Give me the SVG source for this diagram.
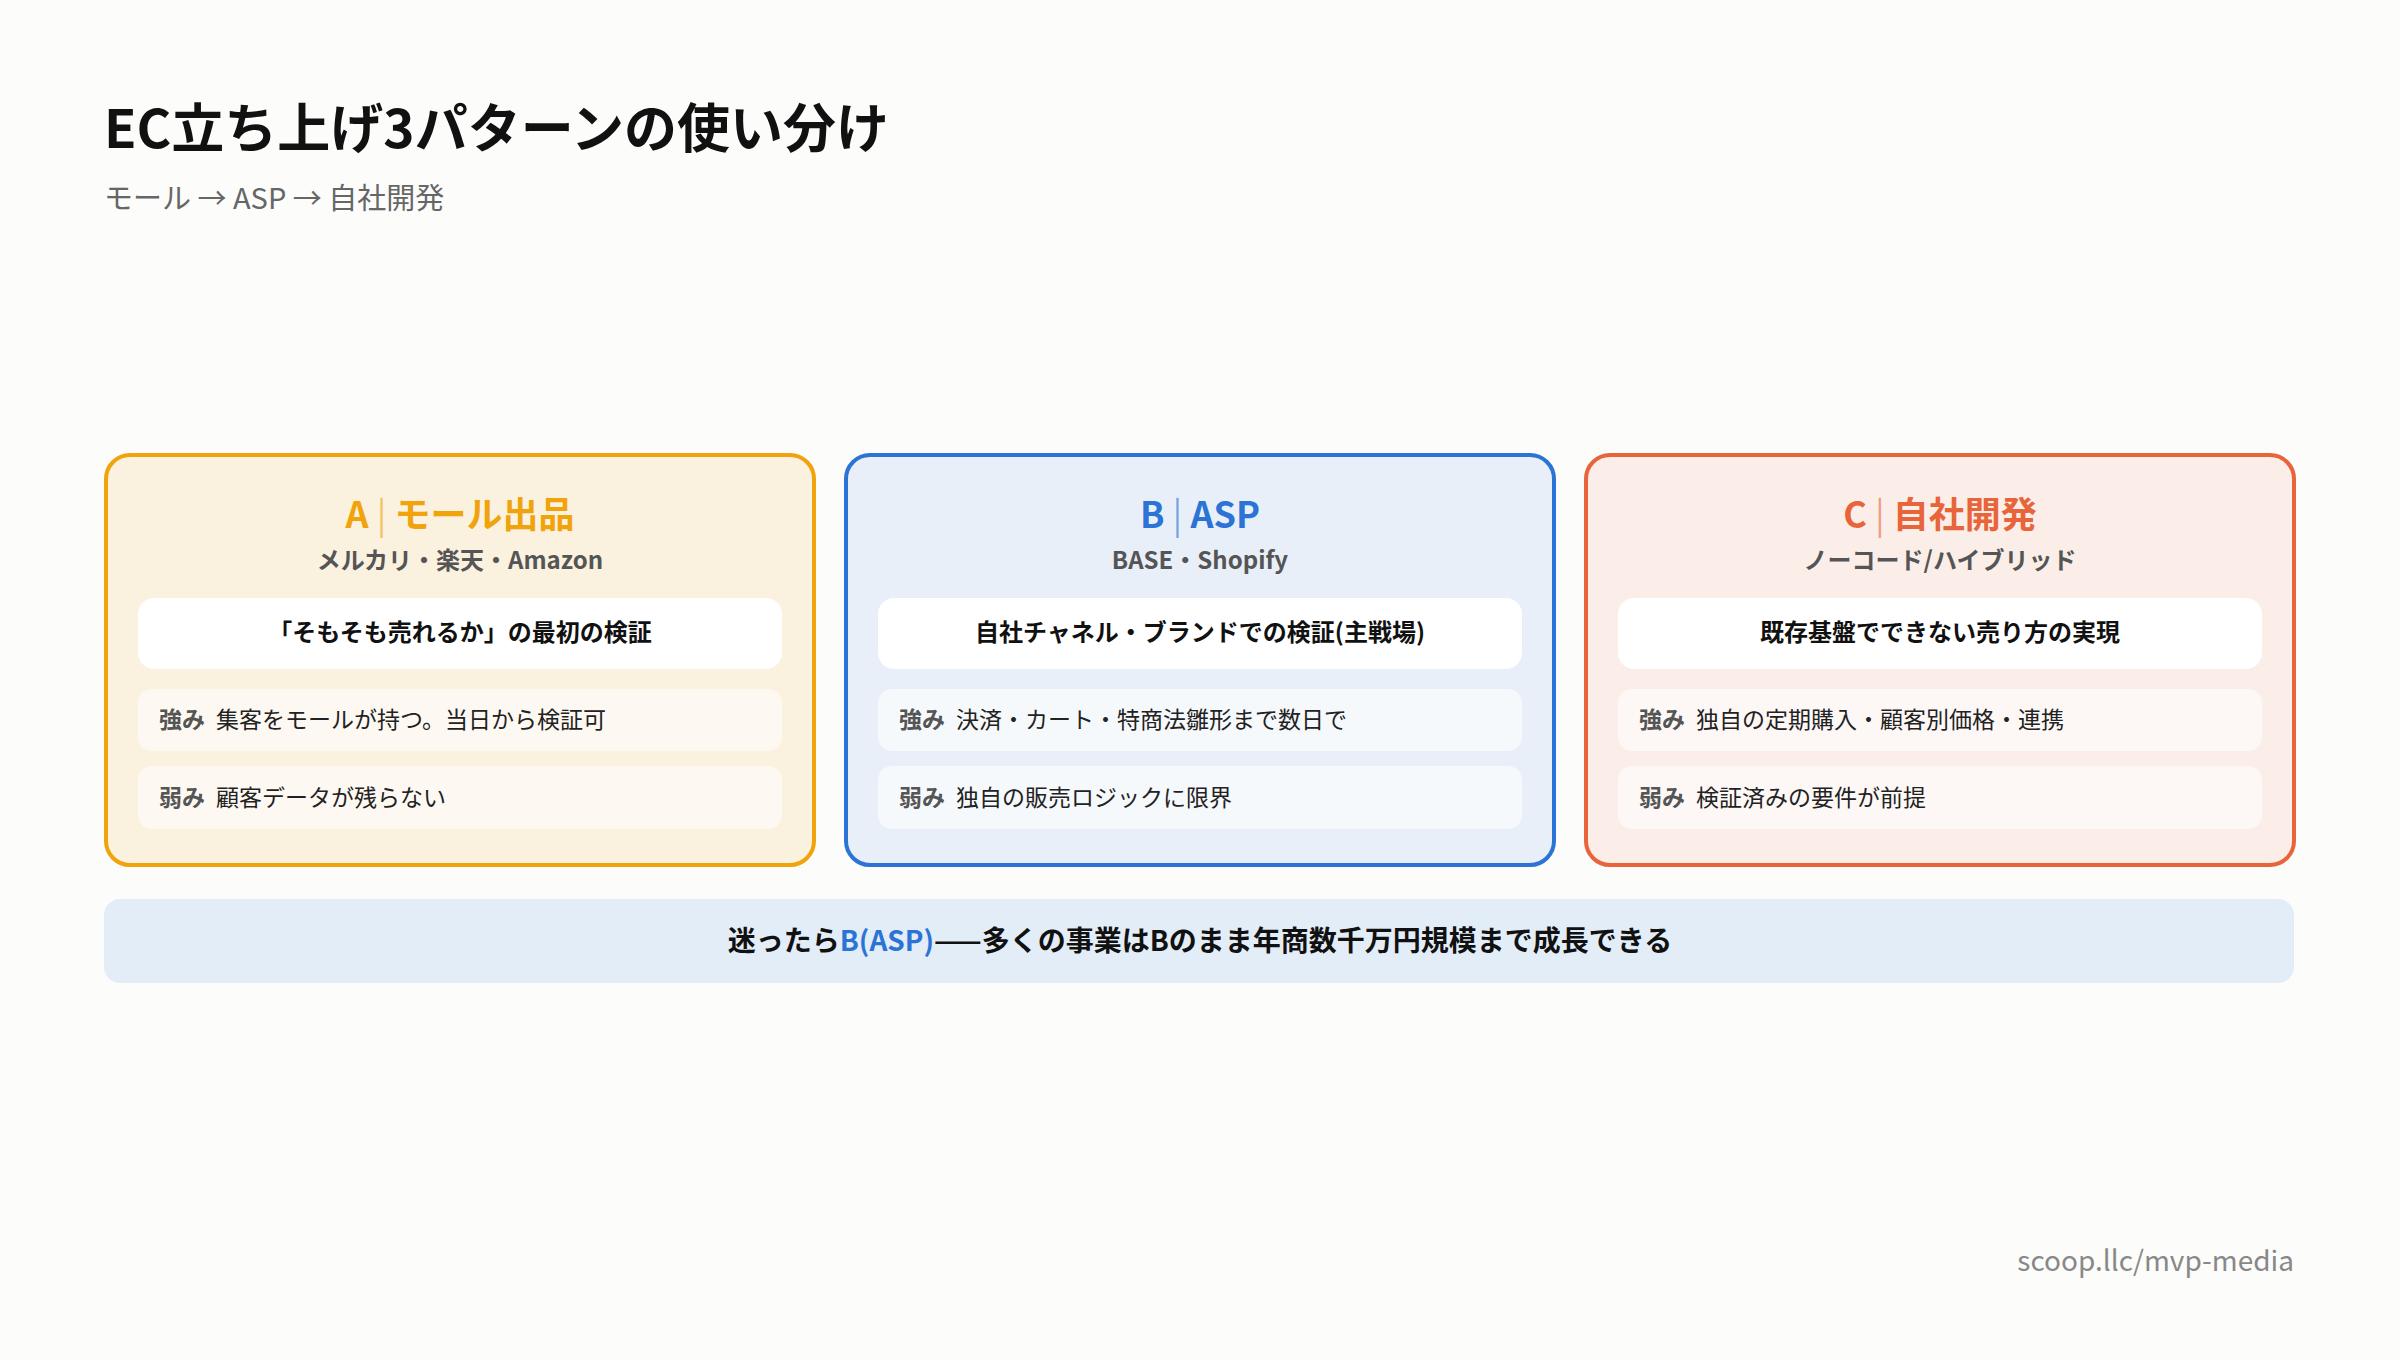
<svg xmlns="http://www.w3.org/2000/svg" width="2400" height="1360" viewBox="0 0 2400 1360">
<style>
text{font-family:"Noto Sans CJK JP","Noto Sans",sans-serif}
.card{stroke-width:4}
.head{font-size:36px;font-weight:700;text-anchor:middle}
.sub{font-size:24px;font-weight:700;fill:#555;text-anchor:middle}
.hb{fill:#fff}
.sb{fill:#fff;fill-opacity:0.6}
.ht{font-size:24px;font-weight:700;fill:#111;text-anchor:middle}
.st{font-size:23px;fill:#222}
.lb{font-size:23px;font-weight:700;fill:#555}
</style>
<rect width="2400" height="1360" fill="#fcfcfb"/>
<g id="title">
<text x="104" y="148" font-size="53" font-weight="700" fill="#111">EC立ち上げ3パターンの使い分け</text>
<text x="104" y="209" font-size="29" fill="#666">モール → ASP → 自社開発</text>
</g>
<g id="cardA">
<rect class="card" x="106" y="455" width="708" height="410" rx="24" fill="#faf1df" stroke="#f0a30a"/>
<text class="head" x="460" y="528" fill="#f0a30a">A <tspan fill-opacity="0.6" font-weight="400">|</tspan> モール出品</text>
<text class="sub" x="460" y="569">メルカリ・楽天・Amazon</text>
<rect class="hb" x="138" y="598" width="644" height="71" rx="16"/>
<text class="ht" x="460" y="641">「そもそも売れるか」の最初の検証</text>
<rect class="sb" x="138" y="689" width="644" height="62" rx="14"/>
<text class="lb" x="159" y="728">強み</text><text class="st" x="216" y="728">集客をモールが持つ。当日から検証可</text>
<rect class="sb" x="138" y="766" width="644" height="63" rx="14"/>
<text class="lb" x="159" y="806">弱み</text><text class="st" x="216" y="806">顧客データが残らない</text>
</g>
<g id="cardB">
<rect class="card" x="846" y="455" width="708" height="410" rx="24" fill="#e8eff8" stroke="#2b74d6"/>
<text class="head" x="1200" y="528" fill="#2b74d6">B <tspan fill-opacity="0.6" font-weight="400">|</tspan> ASP</text>
<text class="sub" x="1200" y="569">BASE・Shopify</text>
<rect class="hb" x="878" y="598" width="644" height="71" rx="16"/>
<text class="ht" x="1200" y="641">自社チャネル・ブランドでの検証(主戦場)</text>
<rect class="sb" x="878" y="689" width="644" height="62" rx="14"/>
<text class="lb" x="899" y="728">強み</text><text class="st" x="956" y="728">決済・カート・特商法雛形まで数日で</text>
<rect class="sb" x="878" y="766" width="644" height="63" rx="14"/>
<text class="lb" x="899" y="806">弱み</text><text class="st" x="956" y="806">独自の販売ロジックに限界</text>
</g>
<g id="cardC">
<rect class="card" x="1586" y="455" width="708" height="410" rx="24" fill="#fbeee8" stroke="#e8643a"/>
<text class="head" x="1940" y="528" fill="#e8643a">C <tspan fill-opacity="0.6" font-weight="400">|</tspan> 自社開発</text>
<text class="sub" x="1940" y="569">ノーコード/ハイブリッド</text>
<rect class="hb" x="1618" y="598" width="644" height="71" rx="16"/>
<text class="ht" x="1940" y="641">既存基盤でできない売り方の実現</text>
<rect class="sb" x="1618" y="689" width="644" height="62" rx="14"/>
<text class="lb" x="1639" y="728">強み</text><text class="st" x="1696" y="728">独自の定期購入・顧客別価格・連携</text>
<rect class="sb" x="1618" y="766" width="644" height="63" rx="14"/>
<text class="lb" x="1639" y="806">弱み</text><text class="st" x="1696" y="806">検証済みの要件が前提</text>
</g>
<g id="banner">
<rect x="104" y="899" width="2190" height="84" rx="16" fill="#e3edf8"/>
<text x="1200" y="951" font-size="28" font-weight="700" fill="#111" text-anchor="middle">迷ったら<tspan fill="#2b74d6">B(ASP)</tspan>——多くの事業はBのまま年商数千万円規模まで成長できる</text>
</g>
<g id="connectors"/>
<text x="2294" y="1271" font-size="28" fill="#888" text-anchor="end">scoop.llc/mvp-media</text>
</svg>
